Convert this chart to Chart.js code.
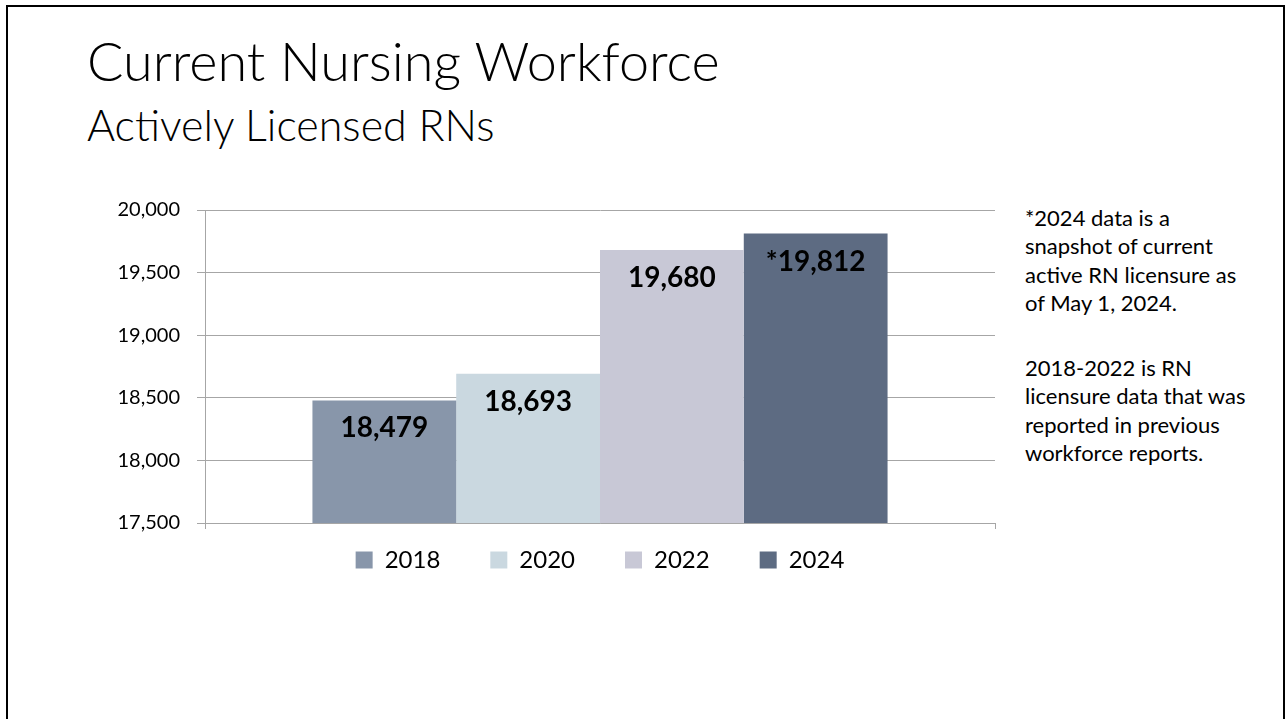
<!DOCTYPE html>
<html lang="en">
<head>
    <meta charset="UTF-8">
    <title>Current Nursing Workforce</title>
    <script src="https://cdn.jsdelivr.net/npm/chart.js"></script>
    <style>
        body {
            margin: 0;
            background: #fff;
            font-family: 'Lato', 'Open Sans', sans-serif;
            width: 1286px;
            height: 719px;
            overflow: hidden;
            position: relative;
        }
        .slide {
            position: absolute;
            left: 6px;
            top: 5px;
            width: 1275px;
            height: 760px;
            border: 2px solid #000;
        }
        .title {
            position: absolute;
            left: 87px;
            top: 30px;
            font-size: 54px;
            font-weight: 300;
            line-height: 62px;
            color: #000;
            white-space: nowrap;
        }
        .subtitle {
            position: absolute;
            left: 87px;
            top: 101px;
            font-size: 43px;
            font-weight: 300;
            line-height: 48px;
            color: #000;
            white-space: nowrap;
        }
        .chart-box {
            position: absolute;
            left: 80px;
            top: 181px;
            width: 930px;
            height: 432px;
        }
        .note {
            position: absolute;
            left: 1025px;
            top: 204px;
            width: 255px;
            font-size: 22px;
            line-height: 28.3px;
            color: #000;
            white-space: nowrap;
        }
        .note p { margin: 0 0 37px 0; }
    </style>
</head>
<body>
    <div class="slide"></div>
    <div class="title">Current Nursing Workforce</div>
    <div class="subtitle">Actively Licensed RNs</div>
    <div class="chart-box"><canvas id="rnChart"></canvas></div>
    <div class="note">
        <p>*2024 data is a<br>snapshot of current<br>active RN licensure as<br>of May 1, 2024.</p>
        <p>2018-2022 is RN<br>licensure data that was<br>reported in previous<br>workforce reports.</p>
    </div>

    <script>
        // data
        const years = ['2018', '2020', '2022', '2024'];
        const rnCounts = [18479, 18693, 19680, 19812];
        const labelPrefix = ['', '', '', '*'];
        const barColors = ['#8896AA', '#CAD8E0', '#C8C8D6', '#5D6B82'];
        const yTicks = [17500, 18000, 18500, 19000, 19500, 20000];

        const fmt = v => v.toLocaleString('en-US');
        const legendGap = 50;

        // draws the bold value inside the top of each bar
        const valueLabels = {
            id: 'valueLabels',
            afterDatasetsDraw(chart) {
                const ctx = chart.ctx;
                ctx.save();
                ctx.font = 'bold 28px Lato, sans-serif';
                ctx.fillStyle = '#000';
                ctx.textAlign = 'center';
                ctx.textBaseline = 'middle';
                chart.data.datasets.forEach((ds, i) => {
                    const bar = chart.getDatasetMeta(i).data[0];
                    ctx.fillText(labelPrefix[i] + fmt(ds.data[0]), bar.x, bar.y + 28);
                });
                ctx.restore();
            }
        };

        // legend padding is also used vertically, so pull the legend back up under the axis
        const legendShift = {
            id: 'legendShift',
            afterLayout(chart) {
                chart.legend.top = chart.chartArea.bottom + 37 - legendGap - 12;
            }
        };

        new Chart(document.getElementById('rnChart'), {
            type: 'bar',
            data: {
                labels: [''],
                datasets: years.map((y, i) => ({
                    label: y,
                    data: [rnCounts[i]],
                    backgroundColor: barColors[i],
                    barPercentage: 1.0,
                    categoryPercentage: 0.728
                }))
            },
            options: {
                responsive: true,
                maintainAspectRatio: false,
                animation: false,
                layout: { padding: { top: 15, right: 15, bottom: 0, left: 0 } },
                plugins: {
                    legend: {
                        position: 'bottom',
                        fullSize: false,
                        labels: {
                            boxWidth: 17,
                            boxHeight: 17,
                            padding: legendGap,
                            color: '#000',
                            font: { family: 'Lato', size: 24 }
                        }
                    },
                    tooltip: { enabled: false }
                },
                scales: {
                    x: {
                        grid: { drawOnChartArea: false, tickLength: 6, offset: true, color: '#A6A6A6' },
                        border: { color: '#A6A6A6' },
                        ticks: { display: false },
                        afterFit(scale) { scale.height = 6; }
                    },
                    y: {
                        min: yTicks[0],
                        max: yTicks[yTicks.length - 1],
                        afterBuildTicks(scale) { scale.ticks = yTicks.map(v => ({ value: v })); },
                        grid: { color: '#A6A6A6', tickLength: 8 },
                        border: { color: '#A6A6A6' },
                        ticks: {
                            padding: 17,
                            color: '#000',
                            font: { family: 'Lato', size: 20 },
                            callback: v => fmt(v)
                        },
                        afterFit(scale) { scale.width = 125; }
                    }
                }
            },
            plugins: [valueLabels, legendShift]
        });
    </script>
</body>
</html>
